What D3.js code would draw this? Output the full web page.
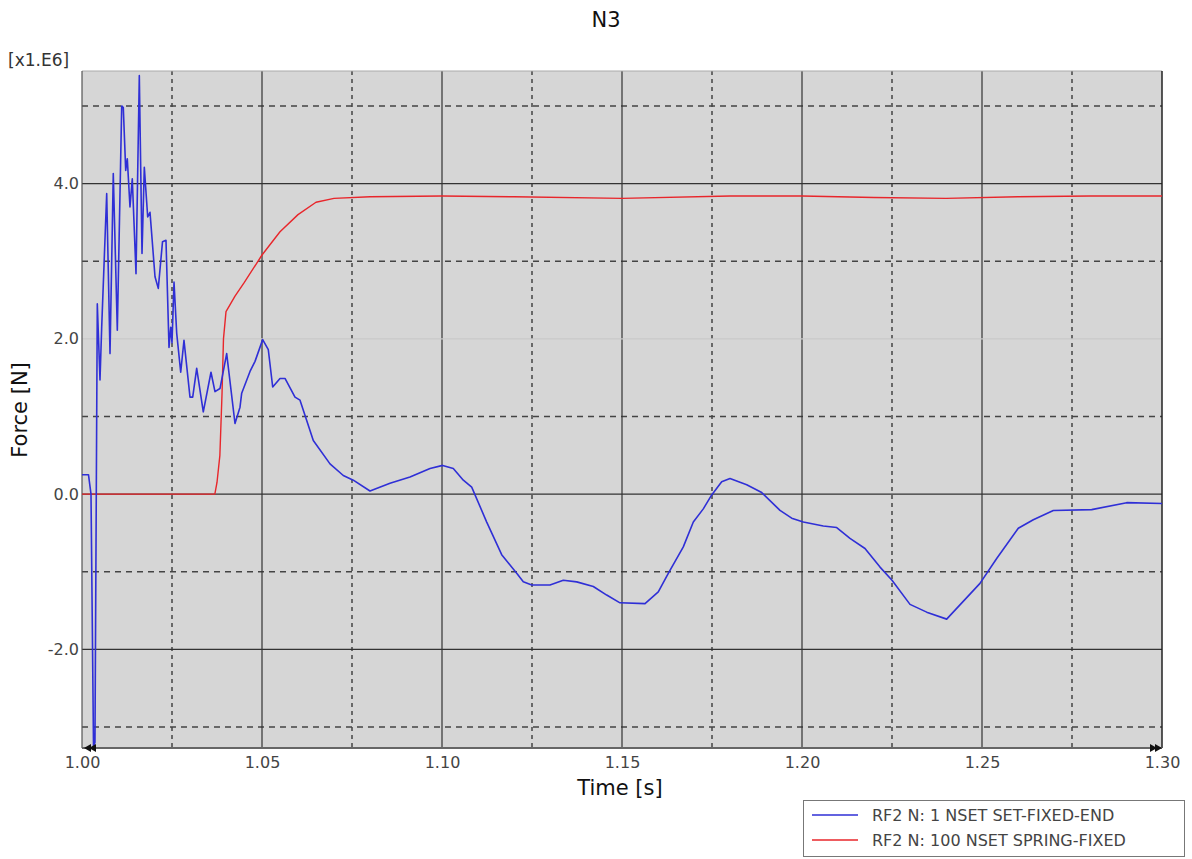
<!DOCTYPE html>
<html>
<head>
<meta charset="utf-8">
<script src="https://cdn.jsdelivr.net/npm/d3@7"></script>
<style>
  html, body { margin: 0; padding: 0; background: #fff; }
  svg text { font-family: "DejaVu Sans", sans-serif; }
</style>
</head>
<body>
<svg id="chart" width="1192" height="859"></svg>
<script>
// Reaction force RF2 (x1.E6 N) versus time (s)
const titleText = "N3";
const xTicks = [1.00, 1.05, 1.10, 1.15, 1.20, 1.25, 1.30];
const xMinor = [1.025, 1.075, 1.125, 1.175, 1.225, 1.275];
const yTicks = [-2, 0, 2, 4];
const yMinor = [-3, -1, 1, 3, 5];
const seriesNames = ["RF2 N: 1 NSET SET-FIXED-END", "RF2 N: 100 NSET SPRING-FIXED"];

// RF2 at node 1 (fixed end)
const fixedEndTime = [
  1.0000, 1.0018, 1.0025, 1.0032, 1.0036, 1.00425, 1.0050, 1.00547, 1.00686, 1.00778,
  1.00869, 1.00981, 1.01103, 1.01147, 1.01214, 1.01258, 1.01333, 1.01397, 1.0150, 1.01592,
  1.01667, 1.01731, 1.01825, 1.01889, 1.02028, 1.02119, 1.02236, 1.02333, 1.02417, 1.02464,
  1.0250, 1.02556, 1.02631, 1.02742, 1.02833, 1.0300, 1.03075, 1.03186, 1.03369, 1.03583,
  1.03694, 1.03833, 1.04019, 1.0425, 1.04389, 1.04436, 1.04667, 1.04806, 1.05019, 1.05175,
  1.05297, 1.0550, 1.05639, 1.05917, 1.06056, 1.06425, 1.06889, 1.07258, 1.07536, 1.0800,
  1.08556, 1.09111, 1.09667, 1.10019, 1.10314, 1.10592, 1.10825, 1.11242, 1.11658, 1.12075,
  1.12258, 1.12492, 1.1300, 1.13369, 1.13742, 1.14203, 1.14575, 1.14944, 1.15639, 1.16008,
  1.16286, 1.16703, 1.16981, 1.17258, 1.17492, 1.17769, 1.1800, 1.18464, 1.18881, 1.19389,
  1.19714, 1.20036, 1.20592, 1.20964, 1.21333, 1.2175, 1.22167, 1.2250, 1.2300, 1.23464,
  1.24019, 1.24944, 1.25408, 1.26008, 1.26425, 1.26981, 1.28047, 1.29019, 1.3000
];
const fixedEndForce = [
  0.25, 0.25, 0.00, -3.25, -3.20, 2.45, 1.47, 2.15, 3.87, 1.81,
  4.13, 2.11, 5.00, 4.98, 4.17, 4.32, 3.70, 4.06, 2.84, 5.39,
  3.10, 4.21, 3.57, 3.63, 2.80, 2.65, 3.25, 3.27, 1.89, 2.15,
  1.95, 2.73, 2.07, 1.57, 1.98, 1.25, 1.25, 1.62, 1.06, 1.57,
  1.32, 1.36, 1.81, 0.91, 1.12, 1.30, 1.58, 1.71, 1.99, 1.86,
  1.38, 1.49, 1.49, 1.25, 1.21, 0.69, 0.39, 0.24, 0.18, 0.04,
  0.14, 0.22, 0.33, 0.37, 0.33, 0.18, 0.09, -0.36, -0.78, -1.02,
  -1.13, -1.17, -1.17, -1.11, -1.13, -1.19, -1.30, -1.40, -1.41, -1.26,
  -1.02, -0.68, -0.36, -0.19, -0.01, 0.16, 0.20, 0.12, 0.02, -0.21,
  -0.31, -0.36, -0.41, -0.43, -0.57, -0.70, -0.94, -1.11, -1.42, -1.52,
  -1.61, -1.15, -0.83, -0.44, -0.33, -0.21, -0.20, -0.11, -0.12
];

// RF2 at node 100 (spring)
const springTime = [
  1.0000, 1.0369, 1.0375, 1.0383, 1.0389, 1.0393, 1.0400, 1.0425, 1.0450, 1.0500,
  1.0550, 1.0600, 1.0650, 1.0700, 1.0800, 1.1000, 1.1200, 1.1500, 1.1800, 1.2000,
  1.2200, 1.2400, 1.2600, 1.2800, 1.3000
];
const springForce = [
  0.00, 0.00, 0.15, 0.50, 1.30, 2.00, 2.35, 2.55, 2.72, 3.08,
  3.38, 3.60, 3.76, 3.81, 3.83, 3.84, 3.83, 3.81, 3.84, 3.84,
  3.82, 3.81, 3.83, 3.84, 3.84
];

const svg = d3.select("#chart");
const plot = { left: 82, right: 1162, top: 71, bottom: 748 };

const x = d3.scaleLinear().domain([1.0, 1.3]).range([plot.left, plot.right]);
const y = d3.scaleLinear().domain([-3.27, 5.45]).range([plot.bottom, plot.top]);

// Title
svg.append("text").attr("x", 606).attr("y", 27).attr("text-anchor", "middle")
  .attr("font-size", 21).attr("fill", "#111").text(titleText);

// Plot background
svg.append("rect").attr("x", plot.left).attr("y", plot.top)
  .attr("width", plot.right - plot.left).attr("height", plot.bottom - plot.top)
  .attr("fill", "#d6d6d6");

const grid = svg.append("g");
// Minor (dashed) grid
grid.selectAll("line.vmin").data(xMinor).join("line")
  .attr("x1", d => x(d)).attr("x2", d => x(d)).attr("y1", plot.top).attr("y2", plot.bottom)
  .attr("stroke", "#444").attr("stroke-width", 1.5).attr("stroke-dasharray", "4,4");
grid.selectAll("line.hmin").data(yMinor).join("line")
  .attr("y1", d => y(d)).attr("y2", d => y(d)).attr("x1", plot.left).attr("x2", plot.right)
  .attr("stroke", "#444").attr("stroke-width", 1.5).attr("stroke-dasharray", "6,5");
// Major (solid) grid
grid.selectAll("line.vmaj").data(xTicks.slice(1, -1)).join("line")
  .attr("x1", d => x(d)).attr("x2", d => x(d)).attr("y1", plot.top).attr("y2", plot.bottom)
  .attr("stroke", "#333").attr("stroke-width", 1.2);
grid.selectAll("line.hmaj").data(yTicks).join("line")
  .attr("y1", d => y(d)).attr("y2", d => y(d)).attr("x1", plot.left).attr("x2", plot.right)
  .attr("stroke", d => d === 2 ? "#c9c9c9" : "#333").attr("stroke-width", 1.2);

// Frame
svg.append("line").attr("x1", plot.left).attr("x2", plot.right).attr("y1", plot.top).attr("y2", plot.top)
  .attr("stroke", "#aaa").attr("stroke-width", 1);
svg.append("line").attr("x1", plot.left).attr("x2", plot.left).attr("y1", plot.top).attr("y2", plot.bottom)
  .attr("stroke", "#555").attr("stroke-width", 1.2);
svg.append("line").attr("x1", plot.right).attr("x2", plot.right).attr("y1", plot.top).attr("y2", plot.bottom)
  .attr("stroke", "#222").attr("stroke-width", 1.5);

// Curves
svg.append("clipPath").attr("id", "plotclip").append("rect")
  .attr("x", plot.left).attr("y", plot.top)
  .attr("width", plot.right - plot.left).attr("height", plot.bottom - plot.top);

const line = d3.line().x(d => x(d[0])).y(d => y(d[1]));
const curves = svg.append("g").attr("clip-path", "url(#plotclip)");
curves.append("path").datum(d3.zip(springTime, springForce))
  .attr("d", line).attr("fill", "none").attr("stroke", "#e8262b").attr("stroke-width", 1.4)
  .attr("stroke-linejoin", "round");
curves.append("path").datum(d3.zip(fixedEndTime, fixedEndForce))
  .attr("d", line).attr("fill", "none").attr("stroke", "#2f2fd6").attr("stroke-width", 1.6)
  .attr("stroke-linejoin", "round");

// Bottom axis line with arrow marks
svg.append("line").attr("x1", plot.left).attr("x2", plot.right).attr("y1", plot.bottom).attr("y2", plot.bottom)
  .attr("stroke", "#666").attr("stroke-width", 2);
svg.append("path").attr("d", `M${plot.left + 2},${plot.bottom} l7,-4 l0,8 z M${plot.left + 7},${plot.bottom} l7,-4 l0,8 z`)
  .attr("fill", "#111");
svg.append("path").attr("d", `M${plot.right},${plot.bottom} l-7,-4 l0,8 z M${plot.right - 5},${plot.bottom} l-7,-4 l0,8 z`)
  .attr("fill", "#111");

// Tick labels via d3 axes (plain hyphen for negatives)
const xAxis = d3.axisBottom(x).tickValues(xTicks).tickFormat(d3.format(".2f")).tickSize(0).tickPadding(9);
const gx = svg.append("g").attr("transform", `translate(0,${plot.bottom})`).call(xAxis);
gx.select(".domain").remove();
gx.selectAll("text").attr("font-size", 16).attr("fill", "#444").attr("font-family", "DejaVu Sans");

const fmtY = d => d3.format(".1f")(d).replace("\u2212", "-");
const yAxis = d3.axisLeft(y).tickValues(yTicks).tickFormat(fmtY).tickSize(0).tickPadding(3);
const gy = svg.append("g").attr("transform", `translate(${plot.left},0)`).call(yAxis);
gy.select(".domain").remove();
gy.selectAll("text").attr("font-size", 16).attr("fill", "#444").attr("font-family", "DejaVu Sans");

// Scale factor
svg.append("text").attr("x", 8).attr("y", 66).attr("font-size", 17).attr("fill", "#333").text("[x1.E6]");

// Axis titles
svg.append("text").attr("x", 620).attr("y", 795).attr("text-anchor", "middle")
  .attr("font-size", 21).attr("fill", "#111").text("Time [s]");
svg.append("text").attr("transform", "translate(27,410) rotate(-90)").attr("text-anchor", "middle")
  .attr("font-size", 21).attr("fill", "#111").text("Force [N]");

// Legend
const legend = svg.append("g");
legend.append("rect").attr("x", 803.5).attr("y", 800.5).attr("width", 381).attr("height", 56)
  .attr("fill", "#fff").attr("stroke", "#777");
const legendColors = ["#2f2fd6", "#e8262b"];
seriesNames.forEach((name, i) => {
  const ly = 815 + i * 25;
  legend.append("line").attr("x1", 812).attr("x2", 858).attr("y1", ly).attr("y2", ly)
    .attr("stroke", legendColors[i]).attr("stroke-width", 1.5);
  legend.append("text").attr("x", 872).attr("y", ly + 6).attr("font-size", 16).attr("fill", "#444").text(name);
});
</script>
</body>
</html>
